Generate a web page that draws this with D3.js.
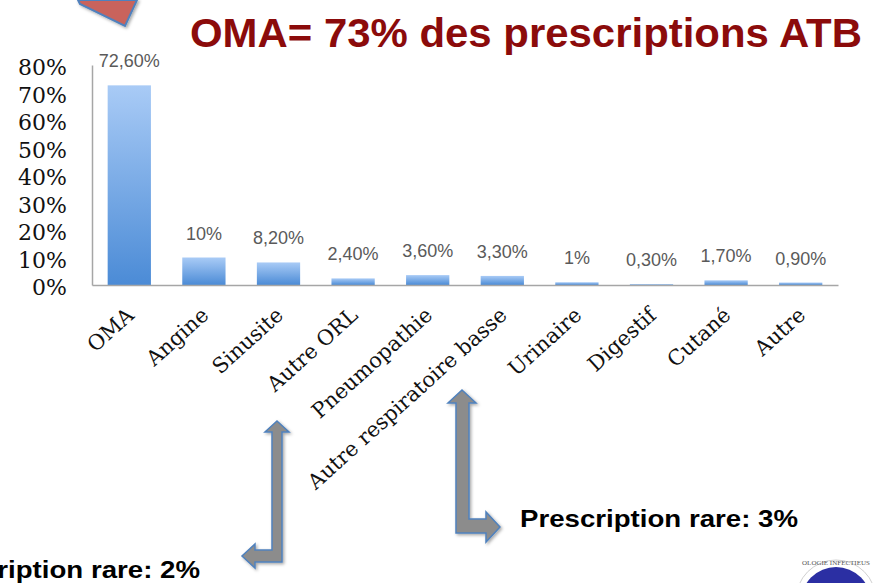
<!DOCTYPE html>
<html><head><meta charset="utf-8">
<script src="https://cdn.jsdelivr.net/npm/d3@7"></script>
<style>body{margin:0;background:#fff}svg{display:block}</style>
</head><body>
<svg id="c" width="875" height="583"></svg>
<script>
const categories = ["OMA","Angine","Sinusite","Autre ORL","Pneumopathie","Autre respiratoire basse","Urinaire","Digestif","Cutané","Autre"];
const values = [72.6,10,8.2,2.4,3.6,3.3,1,0.3,1.7,0.9];
const valueLabels = ["72,60%","10%","8,20%","2,40%","3,60%","3,30%","1%","0,30%","1,70%","0,90%"];
const yTicks = [0,10,20,30,40,50,60,70,80];
const title = "OMA= 73% des prescriptions ATB";
const notes = ["Prescription rare: 2%","Prescription rare: 3%"];

const svg = d3.select("#c");
const x = d3.scaleBand().domain(categories).range([92,838]).paddingInner(0.42).paddingOuter(0.21);
const y = d3.scaleLinear().domain([0,80]).range([285,65]);

const defs = svg.append("defs");
const g = defs.append("linearGradient").attr("id","bg").attr("x1",0).attr("x2",0).attr("y1",0).attr("y2",1);
g.append("stop").attr("offset","0%").attr("stop-color","#a9cbf6");
g.append("stop").attr("offset","100%").attr("stop-color","#4b8bd6");
const f = defs.append("filter").attr("id","sh").attr("x","-20%").attr("y","-20%").attr("width","150%").attr("height","150%");
f.append("feDropShadow").attr("dx",1.5).attr("dy",1.5).attr("stdDeviation",1.5).attr("flood-color","#000").attr("flood-opacity",0.35);

// decorative red arrow tip top-left
svg.append("polygon").attr("points","78,0 80,4 125,26 137,0")
  .attr("fill","#c9635c").attr("stroke","#4f81bd").attr("stroke-width",2).attr("filter","url(#sh)");

// title
svg.append("text").attr("x",862).attr("y",47).attr("text-anchor","end")
  .attr("font-family","Liberation Sans, Arial, sans-serif").attr("font-weight","bold")
  .attr("font-size",40).attr("textLength",672).attr("lengthAdjust","spacingAndGlyphs")
  .attr("fill","#8b0b0b").text(title);

// bars
svg.append("g").selectAll("rect").data(values).join("rect")
  .attr("x",(d,i)=>x(categories[i])).attr("width",x.bandwidth())
  .attr("y",d=>y(d)).attr("height",d=>y(0)-y(d))
  .attr("fill","url(#bg)");

// axes
const yAxis = svg.append("g").attr("transform","translate(92,0)")
  .call(d3.axisLeft(y).tickValues(yTicks).tickSize(0).tickFormat(d=>d+"%"));
yAxis.select(".domain").attr("stroke","#a6a6a6").attr("stroke-width",1.5);
yAxis.selectAll("text").attr("x",-25).attr("dy","0.45em")
  .attr("font-family","DejaVu Serif, serif").attr("font-size",22).attr("fill","#111");

const xAxis = svg.append("g").attr("transform","translate(0,285)")
  .call(d3.axisBottom(x).tickSize(0));
xAxis.select(".domain").attr("stroke","#a6a6a6").attr("stroke-width",1.5);
xAxis.selectAll("text")
  .attr("font-family","DejaVu Serif, serif").attr("font-size",21).attr("fill","#111")
  .attr("text-anchor","end").attr("y",0).attr("dy",0)
  .attr("transform",d=>`translate(6,32) rotate(-42)`);

// value labels
svg.append("g").selectAll("text").data(values).join("text")
  .attr("x",(d,i)=>x(categories[i])+x.bandwidth()/2).attr("y",d=>y(d)-18)
  .attr("text-anchor","middle").attr("font-family","Liberation Sans, Arial, sans-serif")
  .attr("font-size",18).attr("fill","#5a5a5a").text((d,i)=>valueLabels[i]);

// bent arrows
const arrowStyle = s => s.attr("fill","#8c8c8c").attr("stroke","#4f81bd").attr("stroke-width",1.5).attr("filter","url(#sh)");
svg.append("polygon").attr("points","277,421 289,432 282,432 282,562 255,562 255,568 242,556 255,544 255,550 272,550 272,432 265,432").call(arrowStyle);
svg.append("polygon").attr("points","462,390 476,403 469,403 469,519 486,519 486,512 500,527 486,542 486,533 456,533 456,403 448,403").call(arrowStyle);

// notes
svg.append("text").attr("x",-78).attr("y",578)
  .attr("font-family","Liberation Sans, Arial, sans-serif").attr("font-weight","bold")
  .attr("font-size",24).attr("textLength",278).attr("lengthAdjust","spacingAndGlyphs")
  .attr("fill","#000").text(notes[0]);
svg.append("text").attr("x",520).attr("y",527)
  .attr("font-family","Liberation Sans, Arial, sans-serif").attr("font-weight","bold")
  .attr("font-size",24).attr("textLength",278).attr("lengthAdjust","spacingAndGlyphs")
  .attr("fill","#000").text(notes[1]);

// logo (partial)
svg.append("circle").attr("cx",836).attr("cy",600).attr("r",40).attr("fill","#fff").attr("stroke","#d0d0d0").attr("stroke-width",1);
svg.append("circle").attr("cx",836).attr("cy",602).attr("r",35).attr("fill","#2b2fa3");
svg.append("text").attr("x",836).attr("y",565).attr("text-anchor","middle").attr("font-family","Liberation Serif, serif")
  .attr("font-size",7).attr("fill","#555").text("OLOGIE INFECTIEUS");
</script>
</body></html>
